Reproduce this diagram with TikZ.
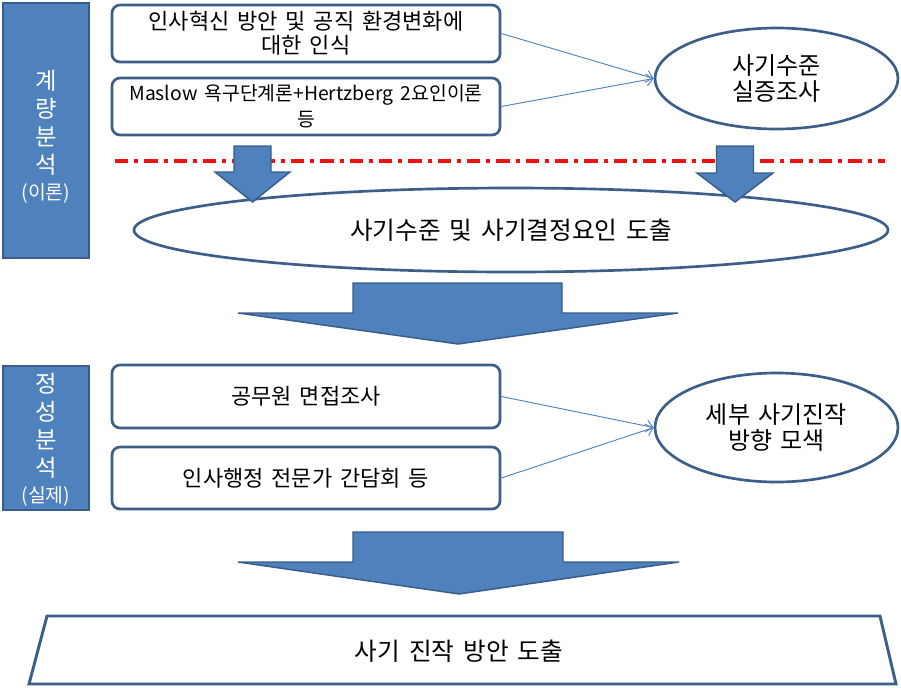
\documentclass[tikz,border=0pt]{standalone}
\usepackage{fontspec}
\setmainfont[WordSpace=1.6]{Noto Sans CJK KR}
\usepackage{tikz}
\usetikzlibrary{shapes, arrows.meta, positioning}
\definecolor{officeblue}{HTML}{4F81BD}
\definecolor{officeline}{HTML}{385D8A}
\definecolor{boxline}{HTML}{3C5E89}
\definecolor{cutred}{HTML}{EE1111}

\begin{document}
\begin{tikzpicture}[x=0.75pt, y=-0.75pt]
			\tikzstyle{sidebar}=[draw=officeline, line width=1.2pt, fill=officeblue, minimum width=64.5pt, inner sep=0pt]
			\tikzstyle{sidetxt}=[text=white, align=center, inner sep=0pt, font=\fontsize{17.5}{21}\selectfont]
			\tikzstyle{itembox}=[draw=boxline, line width=2pt, rounded corners=6pt, fill=white, minimum width=291pt, align=center, inner sep=0pt, font=\fontsize{16.5}{18}\selectfont]
			\tikzstyle{goalell}=[ellipse, draw=boxline, line width=2pt, fill=white, align=center, inner sep=0pt, font=\fontsize{18}{20}\selectfont]
			\tikzstyle{linkarr}=[draw=officeblue, line width=0.7pt, -{Straight Barb[length=5pt, width=9pt]}]
			\tikzstyle{blockarr}=[draw=officeline, line width=1.1pt, fill=officeblue, line join=miter]
			\useasboundingbox (0,0) rectangle (901,687);
			%% side labels
			\node (s1) at (46,130.5) [sidebar, minimum height=191.25pt] {};
			\node (s1t) at (46,137) [sidetxt] {계\\량\\분\\석\\[-1.5pt]{\fontsize{14.5}{16}\selectfont(이론)}};
			\node (s2) at (46,438) [sidebar, minimum height=108pt] {};
			\node (s2t) at (46,439.5) [sidetxt] {정\\성\\분\\석\\[-1.5pt]{\fontsize{14.5}{16}\selectfont(실제)}};
			
			%% quantitative part
			\node (b1) at (306,33.5) [itembox, minimum height=42.75pt] {인사혁신 방안 및 공직 환경변화에\\대한 인식};
			\node (b2) at (306,106.5) [itembox, minimum height=42.75pt, font=\fontsize{14.5}{19.5}\selectfont] {Maslow 욕구단계론+Hertzberg 2요인이론\\등};
			\node (e1) at (776.5,78.5) [goalell, minimum width=182.25pt, minimum height=75.75pt] {사기수준\\실증조사};
			
			\draw [linkarr] (b1.east) -- (e1.west);
			\draw [linkarr] (b2.east) -- (e1.west);
			
			\coordinate (r0) at (115,161);
			\coordinate (r1) at (885,161);
			\draw [cutred, line width=2.3pt, dash pattern=on 10pt off 4.5pt on 3pt off 4.5pt] (r0) -- (r1);
			
			\node (e0) at (511,230) [goalell, minimum width=565.5pt, minimum height=63pt, font=\fontsize{18.5}{20}\selectfont] {사기수준 및 사기결정요인 도출};
			
			\draw [blockarr] (234,146) -- (271,146) -- (271,172) -- (290,172) -- (252.5,202) -- (215,172) -- (234,172) -- cycle;
			\draw [blockarr] (716.5,146) -- (753.5,146) -- (753.5,173) -- (773,173) -- (735,202) -- (697,173) -- (716.5,173) -- cycle;
			\draw [blockarr] (353,283) -- (562,283) -- (562,313) -- (678,313) -- (458,344) -- (238,313) -- (353,313) -- cycle;
			
			%% qualitative part
			\node (b3) at (306,396.5) [itembox, minimum height=47.25pt] {공무원 면접조사};
			\node (b4) at (306,478) [itembox, minimum height=46.5pt] {인사행정 전문가 간담회 등};
			\node (e2) at (776.5,427.5) [goalell, minimum width=182.25pt, minimum height=81.75pt] {세부 사기진작\\방향 모색};
			
			\draw [linkarr] (b3.east) -- (e2.west);
			\draw [linkarr] (b4.east) -- (e2.west);
			
			\draw [blockarr] (353,532) -- (563,532) -- (563,562) -- (679,562) -- (459,594) -- (238,562) -- (353,562) -- cycle;
			
			\draw [boxline, line width=2.2pt, fill=white, line join=miter] (47,616) -- (880,616) -- (896,684) -- (29,684) -- cycle;
			\node (fin) at (459,651) [font=\fontsize{18.5}{20}\selectfont] {사기 진작 방안 도출};
\end{tikzpicture}
\end{document}
